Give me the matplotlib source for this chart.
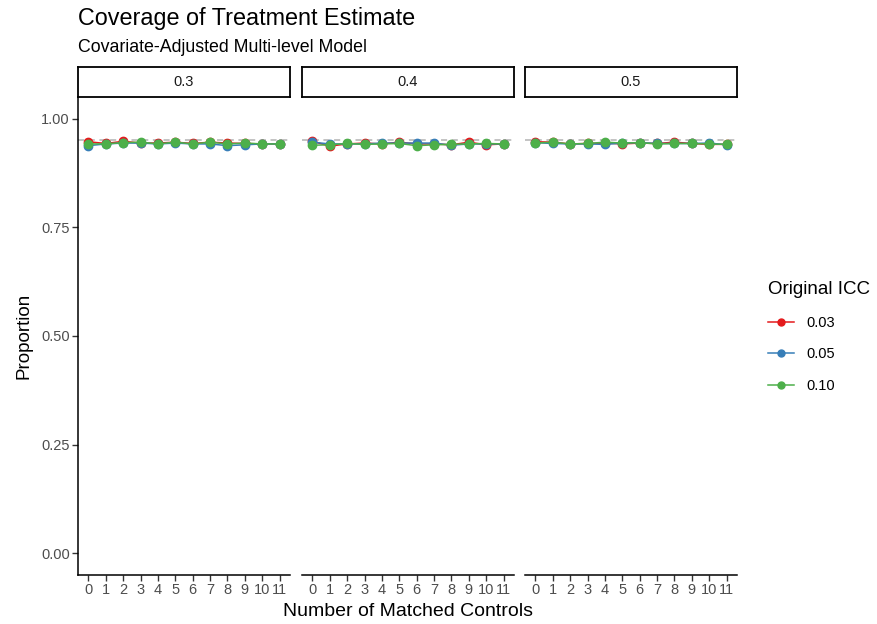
import numpy as np
import matplotlib
matplotlib.use('Agg')
import matplotlib.pyplot as plt
from matplotlib.lines import Line2D

plt.rcParams['font.family'] = ['Liberation Sans', 'DejaVu Sans']

# données
controls = list(range(12))
panels = ['0.3', '0.4', '0.5']
icc_labels = ['0.03', '0.05', '0.10']
colors = ['#E41A1C', '#377EB8', '#4DAF4A']

cov_03 = {
    '0.03': [0.947, 0.943, 0.948, 0.944, 0.944, 0.946, 0.943, 0.946, 0.944, 0.943, 0.942, 0.942],
    '0.05': [0.938, 0.942, 0.944, 0.944, 0.942, 0.944, 0.942, 0.942, 0.938, 0.940, 0.942, 0.942],
    '0.10': [0.942, 0.942, 0.945, 0.946, 0.942, 0.946, 0.942, 0.946, 0.942, 0.944, 0.942, 0.942],
}
cov_04 = {
    '0.03': [0.948, 0.937, 0.942, 0.944, 0.942, 0.946, 0.942, 0.942, 0.940, 0.946, 0.940, 0.942],
    '0.05': [0.946, 0.942, 0.942, 0.942, 0.944, 0.944, 0.944, 0.944, 0.939, 0.942, 0.942, 0.942],
    '0.10': [0.939, 0.940, 0.943, 0.941, 0.942, 0.943, 0.938, 0.940, 0.941, 0.942, 0.943, 0.942],
}
cov_05 = {
    '0.03': [0.947, 0.946, 0.942, 0.943, 0.944, 0.942, 0.944, 0.943, 0.946, 0.943, 0.941, 0.941],
    '0.05': [0.945, 0.943, 0.942, 0.942, 0.941, 0.944, 0.945, 0.943, 0.943, 0.943, 0.944, 0.940],
    '0.10': [0.944, 0.946, 0.942, 0.943, 0.946, 0.944, 0.945, 0.942, 0.943, 0.943, 0.942, 0.941],
}
all_cov = [cov_03, cov_04, cov_05]
nominal = 0.95

W, H = 877, 624
fig = plt.figure(figsize=(W / 100, H / 100), dpi=100)

lefts = [78, 302, 525]
pw = 212
top, bottom = 97, 575
grey = '#4d4d4d'

for i, (lab, cov) in enumerate(zip(panels, all_cov)):
    ax = fig.add_axes([lefts[i] / W, (H - bottom) / H, pw / W, (bottom - top) / H])
    ax.axhline(nominal, color='#b3b3b3', linestyle=(0, (4, 3)), linewidth=1.1, zorder=1)
    for icc, c in zip(icc_labels, colors):
        ax.plot(controls, cov[icc], '-o', color=c, linewidth=1.1, markersize=6, zorder=3)
    ax.set_xlim(-0.6, 11.6)
    ax.set_ylim(-0.05, 1.05)
    ax.set_xticks(controls)
    ax.set_xticklabels([str(v) for v in controls], fontsize=10.5, color=grey)
    for s in ['top', 'right']:
        ax.spines[s].set_visible(False)
    ax.spines['bottom'].set_linewidth(1.1)
    if i == 0:
        ax.set_yticks([0, 0.25, 0.5, 0.75, 1.0])
        ax.set_yticklabels(['0.00', '0.25', '0.50', '0.75', '1.00'], fontsize=10.5, color=grey)
        ax.spines['left'].set_linewidth(1.1)
        ax.set_ylabel('Proportion', fontsize=13.5, labelpad=6)
    else:
        ax.spines['left'].set_visible(False)
        ax.set_yticks([])
    ax.tick_params(length=4, width=1, color='#333333', pad=2)

    # bandeau
    sax = fig.add_axes([lefts[i] / W, (H - top) / H, pw / W, 30 / H])
    sax.set_xticks([])
    sax.set_yticks([])
    for s in sax.spines.values():
        s.set_linewidth(1.3)
        s.set_color('black')
    sax.text(0.5, 0.5, lab, ha='center', va='center', fontsize=10.5, color='#1a1a1a',
             transform=sax.transAxes)

fig.text((78 + 738) / 2 / W, 1 - 612 / H, 'Number of Matched Controls', ha='center', va='center', fontsize=14)
fig.text(78 / W, 1 - 19 / H, 'Coverage of Treatment Estimate', ha='left', va='center', fontsize=16.8)
fig.text(78 / W, 1 - 47 / H, 'Covariate-Adjusted Multi-level Model', ha='left', va='center', fontsize=12.8)

handles = [Line2D([0], [0], color=c, marker='o', linewidth=1.1, markersize=5) for c in colors]
fig.legend(handles, icc_labels, title='Original ICC', loc='upper left',
           bbox_to_anchor=(755 / W, 1 - 268 / H), frameon=False, fontsize=10.5,
           title_fontsize=13.5, handlelength=1.8, labelspacing=1.2, alignment='left')

fig.savefig('out.png', dpi=100)
